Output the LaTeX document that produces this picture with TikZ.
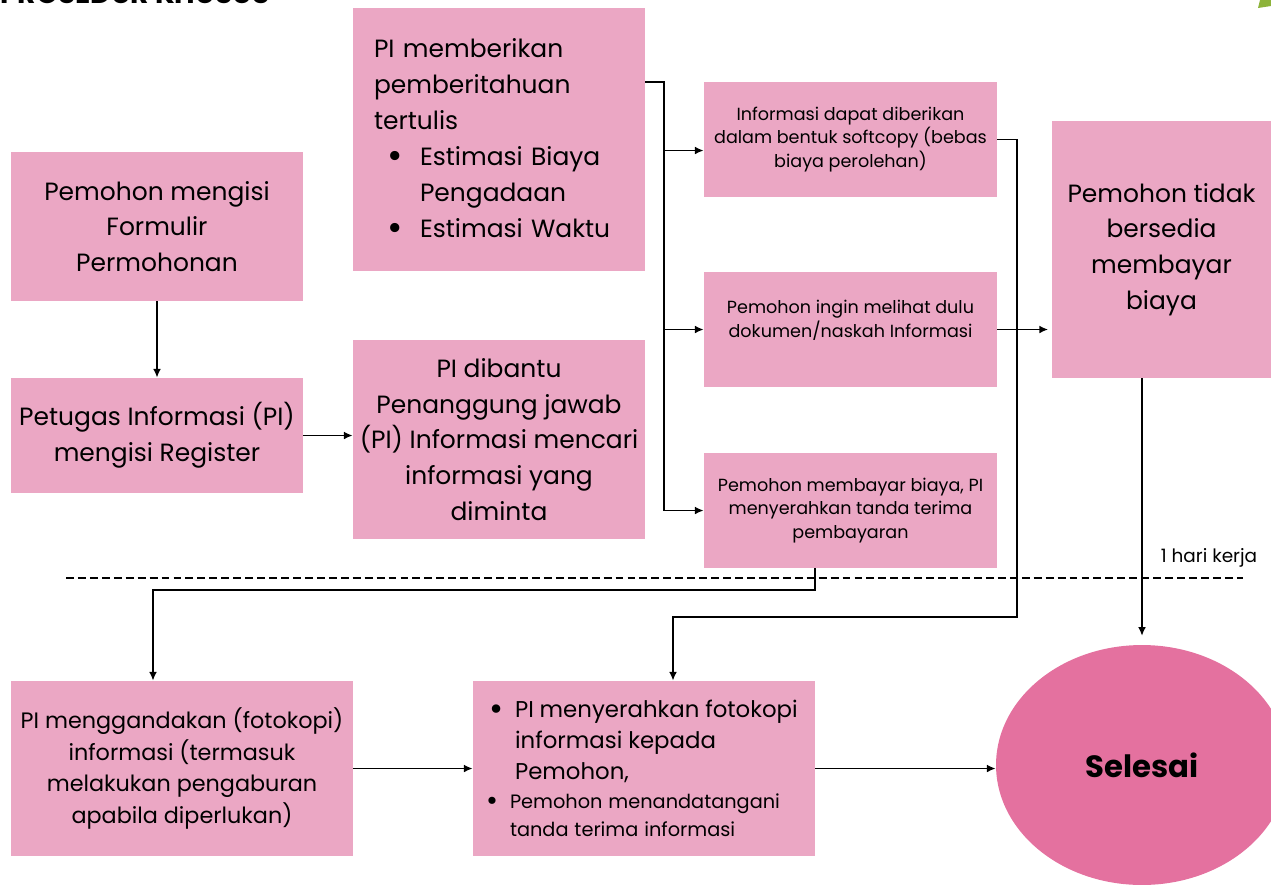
\documentclass[tikz,border=0pt]{standalone}
\usepackage{fontspec}
\setmainfont{Poppins}
\usetikzlibrary{arrows.meta,calc,positioning,shapes.geometric}

\definecolor{boxpink}{HTML}{EBA7C4}
\definecolor{endpink}{HTML}{E4719F}
\definecolor{leafgreen}{HTML}{8DB33A}
\newcommand{\ftbig}{\fontsize{14.2}{20.4}\selectfont}
\newcommand{\ftsmall}{\fontsize{10}{13.6}\selectfont}
\newcommand{\blt}[1]{\makebox[#1][l]{\raisebox{-0.12em}{\scalebox{1.5}{\textbullet}}}}

\tikzset{
  box/.style={fill=boxpink,inner sep=0pt,align=center,minimum width=5.84cm},
  wide/.style={box,minimum width=6.84cm,minimum height=3.5cm},
  line/.style={line width=1pt},
  arr/.style={line,-{Latex[length=5pt,width=4.5pt]}},
}

\begin{document}
\begin{tikzpicture}[x=0.02cm,y=-0.02cm]
  \useasboundingbox (0,0) rectangle (1271,890);
  % cut-off heading and corner mark
  \node[anchor=base west,font=\bfseries\fontsize{16}{16}\selectfont] (judul) at (-6,3) {PROSEDUR KHUSUS};
  \fill[leafgreen] (1260,0) -- (1271,0) -- (1271,6) -- (1258,8) -- cycle;

  % first column
  \node[box,minimum height=2.98cm,font=\ftbig] (form) at (157,226.5)
    {Pemohon mengisi\\Formulir\\Permohonan};
  \node[box,minimum height=2.30cm,font=\ftbig] (reg) at (157,435.5)
    {Petugas Informasi (PI)\\mengisi Register};

  % second column
  \node[box,minimum height=5.26cm,align=left,text width=5cm,inner xsep=0.42cm,font=\ftbig] (pemb) at (499,139.5)
    {PI memberikan\\pemberitahuan\\tertulis\\
     \hspace*{0.26cm}\blt{0.66cm}Estimasi Biaya\\
     \hspace*{0.92cm}Pengadaan\\
     \hspace*{0.26cm}\blt{0.66cm}Estimasi Waktu};
  \node[box,minimum height=3.98cm,font=\ftbig] (cari) at (499,439.5)
    {PI dibantu\\Penanggung jawab\\(PI) Informasi mencari\\informasi yang\\diminta};

  % third column
  \node[box,minimum width=5.86cm,minimum height=2.30cm,font=\ftsmall] (soft) at (850.5,139.5)
    {Informasi dapat diberikan\\dalam bentuk softcopy (bebas\\biaya perolehan)};
  \node[box,minimum width=5.86cm,minimum height=2.30cm,text depth=0.44cm,font=\ftsmall] (lihat) at (850.5,329.5)
    {Pemohon ingin melihat dulu\\dokumen/naskah Informasi};
  \node[box,minimum width=5.86cm,minimum height=2.30cm,font=\ftsmall] (bayar) at (850.5,510.5)
    {Pemohon membayar biaya, PI\\menyerahkan tanda terima\\pembayaran};

  \node[box,minimum width=4.38cm,minimum height=5.14cm,font=\ftbig] (tidak) at (1161.5,249.5)
    {Pemohon tidak\\bersedia\\membayar\\biaya};

  % bottom row
  \node[wide,font={\fontsize{12.7}{18}\selectfont}] (ganda) at (182,768.5)
    {PI menggandakan (fotokopi)\\informasi (termasuk\\melakukan pengaburan\\apabila diperlukan)};
  \node[wide,align=left,text width=6.32cm,inner xsep=0.26cm] (serah) at (644,768.5)
    {\fontsize{13}{17.6}\selectfont
     \hspace*{0.06cm}\blt{0.52cm}PI menyerahkan fotokopi\\
     \hspace*{0.58cm}informasi kepada\\
     \hspace*{0.58cm}Pemohon,\\
     \fontsize{11}{16.4}\selectfont
     \blt{0.48cm}Pemohon menandatangani\\[4pt]
     \hspace*{0.48cm}tanda terima informasi};
  \node[ellipse,fill=endpink,inner sep=0pt,minimum width=5.84cm,minimum height=4.8cm,
        font=\bfseries\fontsize{17.5}{20}\selectfont] (selesai) at (1142,765) {Selesai};

  % time limit
  \draw[line width=0.8pt,dash pattern=on 4.5pt off 2.3pt] (66,578) -- (1243,578);
  \node[font=\fontsize{10.5}{12}\selectfont] (hari) at (1209,558) {1 hari kerja};

  % connectors
  \coordinate (bus) at (664,0);
  \coordinate (turn) at (1017,617);
  \coordinate (turnx) at (673,617);
  \coordinate (drop) at (815,590);
  \coordinate (dropx) at (153,590);

  \draw[arr] (form) -- (reg);
  \draw[arr] (reg.east) -- (reg.east -| cari.west);
  \draw[line] (pemb.east |- soft.north) -| (bus |- bayar);
  \draw[arr] ($(bus |- soft)+(0,11)$) -- ($(soft.west)+(0,11)$);
  \draw[arr] (bus |- lihat) -- (lihat.west);
  \draw[arr] (bus |- bayar) -- (bayar.west);
  \draw[arr] (soft.east) -| (turn) -- (turnx) -- (turnx |- serah.north);
  \draw[arr,shorten >=2pt] (lihat.east) -- (lihat.east -| tidak.west);
  \draw[arr,shorten >=5pt] (tidak.south -| selesai.north) -- (selesai.north);
  \draw[arr] (bayar.south -| drop) -- (drop) -- (dropx) -- (dropx |- ganda.north);
  \draw[arr] (ganda) -- (serah);
  \draw[arr] (serah.east) -- (serah.east -| selesai.west);
\end{tikzpicture}
\end{document}
